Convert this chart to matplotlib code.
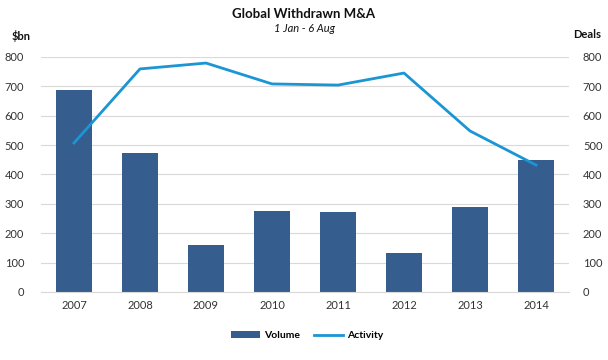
import matplotlib.pyplot as plt
import numpy as np

years = ['2007', '2008', '2009', '2010', '2011', '2012', '2013', '2014']
volume = [687, 474, 160, 277, 273, 133, 290, 450]
activity = [507, 759, 779, 708, 704, 745, 548, 432]

plt.rcParams['font.family'] = ['Lato', 'DejaVu Sans']

fig = plt.figure(figsize=(6.08, 3.6), dpi=100)
ax = fig.add_axes([0.0674, 0.189, 0.8684, 0.653])
ax2 = ax.twinx()

x = np.arange(len(years))
bars = ax.bar(x, volume, width=0.55, color='#355e8e', label='Volume', zorder=2)
line, = ax2.plot(x, activity, color='#1b95d3', lw=2, label='Activity', zorder=3)

for a in (ax, ax2):
    a.set_ylim(0, 800)
    a.set_yticks(range(0, 801, 100))
    for s in ('top', 'left', 'right', 'bottom'):
        a.spines[s].set_visible(False)
    a.tick_params(length=0, labelsize=8, colors='#333333')
ax.set_xlim(-0.5, len(years) - 0.5)
ax.set_xticks(x, years)
ax.spines['bottom'].set_visible(True)
ax.spines['bottom'].set_color('#d9d9d9')
ax.grid(axis='y', color='#d9d9d9', lw=0.8, zorder=0)
ax.set_axisbelow(True)
ax.tick_params(axis='y', pad=12)
ax2.tick_params(axis='y', pad=10)
ax.tick_params(axis='x', pad=6)

fig.text(0.5, 0.96, 'Global Withdrawn M&A', ha='center', va='center',
         fontsize=9.5, fontweight='bold', color='#111111')
fig.text(0.5, 0.922, '1 Jan - 6 Aug', ha='center', va='center',
         fontsize=8, style='italic', color='#111111')
fig.text(0.034, 0.9, '$bn', ha='center', va='center', fontsize=8,
         fontweight='bold', color='#111111')
fig.text(0.965, 0.905, 'Deals', ha='center', va='center', fontsize=8,
         fontweight='bold', color='#111111')

fig.legend([bars, line], ['Volume', 'Activity'], loc='center',
           bbox_to_anchor=(0.505, 0.067), ncol=2, frameon=False,
           handlelength=2.8, handleheight=0.6, handletextpad=0.4,
           columnspacing=1.3, prop={'weight': 'bold', 'size': 7.5})

fig.savefig('out.png', dpi=100)
